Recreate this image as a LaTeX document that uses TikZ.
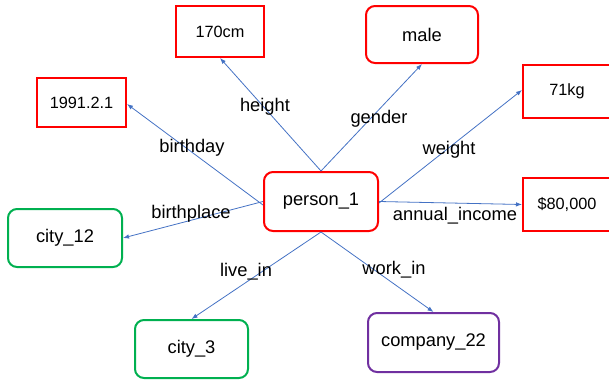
\documentclass[tikz,border=0pt]{standalone}
\usepackage{fontspec}
\setmainfont{Liberation Sans}
\usetikzlibrary{arrows.meta}
\definecolor{edgeblue}{HTML}{4472C4}
\definecolor{boxred}{HTML}{FF0000}
\definecolor{boxgreen}{HTML}{00B050}
\definecolor{boxpurple}{HTML}{7030A0}
\begin{document}
\begin{tikzpicture}[x=1pt,y=-1pt,
  valbox/.style={draw=boxred,line width=2pt,inner sep=0pt,font=\fontsize{16.3}{19}\selectfont},
  entbox/.style={draw=#1,line width=2pt,rounded corners=9pt,inner sep=0pt,font=\fontsize{18.3}{22}\selectfont},
  rel/.style={draw=edgeblue,line width=0.8pt,-{Latex[length=6pt,width=4.5pt]}},
  lbl/.style={font=\fontsize{18.3}{22}\selectfont,inner sep=0pt,yshift=-2pt}]
\useasboundingbox (0,0) rectangle (609,383);
\node[entbox=boxred,minimum width=114pt,minimum height=59pt] (person) at (321,201.5) {person\_1};
\node[valbox,minimum width=88pt,minimum height=51pt] (h) at (220,31.5) {170cm};
\node[valbox,minimum width=89pt,minimum height=49pt] (bd) at (81.5,102.5) {1991.2.1};
\node[entbox=boxred,minimum width=112pt,minimum height=57pt] (male) at (422,34.5) {male};
\node[valbox,minimum width=88pt,minimum height=53pt] (kg) at (567,91.5) {71kg};
\node[valbox,minimum width=88pt,minimum height=53pt] (inc) at (567,204.5) {\$80,000};
\node[entbox=boxgreen,minimum width=114pt,minimum height=58pt] (c12) at (65,238) {city\_12};
\node[entbox=boxgreen,minimum width=113pt,minimum height=58pt] (c3) at (191.5,349) {city\_3};
\node[entbox=boxpurple,minimum width=131pt,minimum height=59pt] (comp) at (433.5,342.5) {company\_22};
\draw[rel] (person.north) -- (h.south);
\draw[rel] (person.north) -- (male.south);
\draw[rel] ([yshift=-3.5pt]person.west) -- ([yshift=-1.5pt]bd.east);
\draw[rel] (person.west) -- (c12.east);
\draw[rel] ([yshift=-1.5pt]person.east) -- ([yshift=1.5pt]kg.west);
\draw[rel] (person.east) -- (inc.west);
\draw[rel] (person.south) -- (c3.north);
\draw[rel] (person.south) -- (comp.north);
\node[lbl] (lh) at (265,105) {height};
\node[lbl] (lbd) at (192,146) {birthday};
\node[lbl] (lg) at (379,117) {gender};
\node[lbl] (lw) at (449,148) {weight};
\node[lbl] (lbp) at (191,212) {birthplace};
\node[lbl] (lai) at (455,214) {annual\_income};
\node[lbl] (lli) at (246,270) {live\_in};
\node[lbl] (lwi) at (394,268) {work\_in};
\end{tikzpicture}
\end{document}
